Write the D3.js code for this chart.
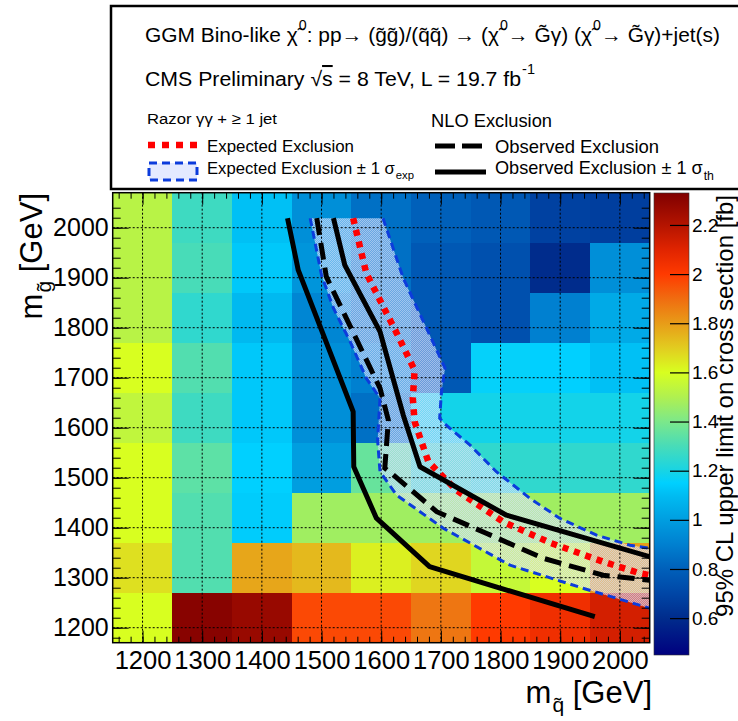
<!DOCTYPE html>
<html>
<head>
<meta charset="utf-8">
<script src="https://cdn.jsdelivr.net/npm/d3@7"></script>
<style>
body { margin: 0; background: #fff; }
svg { display: block; }
text { font-family: "Liberation Sans", Arial, Helvetica, sans-serif; fill: #000; }
</style>
</head>
<body>
<div id="chart"></div>
<script>
// bin centres of the limit histogram
var squarkMass = [1200, 1300, 1400, 1500, 1600, 1700, 1800, 1900, 2000];
var gluinoMass = [1220, 1320, 1420, 1520, 1620, 1720, 1820, 1920, 2020];

// 95% CL upper limit [fb], one row per gluino bin (bottom to top)
var limit1220 = [1.60, 2.31, 2.27, 1.97, 1.97, 1.88, 2.00, 2.05, 2.13];
var limit1320 = [1.66, 1.32, 1.78, 1.74, 1.63, 1.68, 1.55, 1.60, 1.80];
var limit1420 = [1.60, 1.32, 1.14, 1.47, 1.47, 1.47, 1.47, 1.47, 1.47];
var limit1520 = [1.60, 1.34, 1.15, 1.00, 1.36, 1.27, 1.25, 1.25, 1.25];
var limit1620 = [1.54, 1.28, 1.13, 0.95, 0.85, 1.19, 1.19, 1.19, 1.19];
var limit1720 = [1.60, 1.32, 1.13, 0.95, 0.90, 0.77, 1.16, 1.15, 1.11];
var limit1820 = [1.52, 1.25, 1.09, 0.92, 0.85, 0.77, 0.74, 0.90, 1.04];
var limit1920 = [1.52, 1.30, 1.13, 0.97, 0.85, 0.77, 0.74, 0.60, 0.95];
var limit2020 = [1.52, 1.28, 1.11, 0.95, 0.85, 0.80, 0.77, 0.68, 0.67];
var limits = [limit1220, limit1320, limit1420, limit1520, limit1620, limit1720, limit1820, limit1920, limit2020];

var xTicks = [1200, 1300, 1400, 1500, 1600, 1700, 1800, 1900, 2000];
var yTicks = [1200, 1300, 1400, 1500, 1600, 1700, 1800, 1900, 2000];
var zTicks = [0.6, 0.8, 1.0, 1.2, 1.4, 1.6, 1.8, 2.0, 2.2];
var zTickLabels = ["0.6", "0.8", "1", "1.2", "1.4", "1.6", "1.8", "2", "2.2"];

// exclusion contours [m_squark, m_gluino]
var expected = [[1553,2019],[1575,1909],[1626,1789],[1656,1715],[1653,1659],[1656,1612],[1679,1532],
  [1726,1475],[1804,1412],[1885,1369],[1972,1332],[2033,1309],[2050,1305]];
var expectedUp = [[1603,2019],[1637,1899],[1676,1799],[1707,1719],[1701,1672],[1698,1619],[1709,1605],
  [1749,1565],[1793,1512],[1849,1459],[1899,1419],[1961,1385],[2017,1365],[2050,1359]];
var expectedDown = [[1481,2019],[1500,1905],[1520,1839],[1548,1772],[1575,1699],[1598,1659],[1594,1575],
  [1598,1512],[1626,1465],[1704,1399],[1816,1325],[1938,1279],[2050,1239]];
var observed = [[1492,2019],[1508,1902],[1598,1679],[1612,1615],[1606,1519],[1617,1509],[1693,1432],
  [1776,1389],[1871,1339],[1972,1305],[2050,1295]];
var observedUp = [[1520,2019],[1539,1925],[1598,1792],[1637,1625],[1665,1522],[1810,1425],[2050,1342]];
var observedDown = [[1443,2019],[1461,1915],[1553,1632],[1554,1522],[1592,1419],[1681,1322],[1958,1222]];

// ROOT-like rainbow palette
var paletteValues = [0.45, 0.6, 0.7, 0.8, 0.9, 1.0, 1.1, 1.15, 1.2, 1.3, 1.4, 1.5, 1.6, 1.7, 1.8, 1.9, 2.0, 2.1, 2.2, 2.33];
var paletteColors = ["#00007f", "#002c8c", "#0046a6", "#0060ba", "#0080d0", "#009ee0", "#00bcf2", "#00d0ff",
  "#18d4e4", "#48dcb8", "#7ce88a", "#b0f050", "#d8ff20", "#e2cc20", "#e89c18", "#f06c10", "#ff3a00",
  "#e02400", "#b41400", "#800000"];

var width = 738, height = 721;
var x = d3.scaleLinear().domain([1150, 2050]).range([112.7, 649.7]);
var y = d3.scaleLinear().domain([1170, 2070]).range([642.7, 192.7]);
var z = d3.scaleLinear().domain([0.45, 2.33]).range([655, 193]);
var color = d3.scaleLinear().domain(paletteValues).range(paletteColors).clamp(true);

var svg = d3.select("#chart").append("svg").attr("width", width).attr("height", height);
var defs = svg.append("defs");

defs.append("clipPath").attr("id", "plotclip").append("rect")
  .attr("x", x(1150)).attr("y", y(2070)).attr("width", x(2050) - x(1150)).attr("height", y(1170) - y(2070));

var hatch = defs.append("pattern").attr("id", "hatch").attr("patternUnits", "userSpaceOnUse")
  .attr("width", 2).attr("height", 2);
hatch.append("rect").attr("width", 2).attr("height", 2).attr("fill", "rgba(212,222,255,0.5)");
hatch.append("rect").attr("x", 0).attr("y", 0).attr("width", 1).attr("height", 1).attr("fill", "rgba(225,232,255,0.45)");
hatch.append("rect").attr("x", 1).attr("y", 1).attr("width", 1).attr("height", 1).attr("fill", "rgba(225,232,255,0.45)");

// heat map cells
var cells = [];
limits.forEach(function(row, j) {
  row.forEach(function(v, i) {
    cells.push({sq: squarkMass[i], gl: gluinoMass[j], v: v});
  });
});

var plot = svg.append("g").attr("clip-path", "url(#plotclip)");
plot.selectAll(".cell").data(cells).enter().append("rect")
  .attr("class", "cell")
  .attr("x", function(d) { return x(d.sq - 50); })
  .attr("y", function(d) { return y(d.gl + 50); })
  .attr("width", function(d) { return x(d.sq + 50) - x(d.sq - 50) + 0.5; })
  .attr("height", function(d) { return y(d.gl - 50) - y(d.gl + 50) + 0.5; })
  .attr("fill", function(d) { return color(d.v); })
  .attr("shape-rendering", "crispEdges");

var line = d3.line().x(function(d) { return x(d[0]); }).y(function(d) { return y(d[1]); });

// +-1 sigma expected band
var band = expectedUp.concat(expectedDown.slice().reverse());
plot.append("path").attr("d", line(band) + "Z").attr("fill", "url(#hatch)");

// grid
plot.selectAll(".gx").data(xTicks).enter().append("line")
  .attr("x1", function(d) { return x(d); }).attr("x2", function(d) { return x(d); })
  .attr("y1", y(2070)).attr("y2", y(1170))
  .attr("stroke", "#000").attr("stroke-width", 1).attr("stroke-dasharray", "2,2");
plot.selectAll(".gy").data(yTicks).enter().append("line")
  .attr("y1", function(d) { return y(d); }).attr("y2", function(d) { return y(d); })
  .attr("x1", x(1150)).attr("x2", x(2050))
  .attr("stroke", "#000").attr("stroke-width", 1).attr("stroke-dasharray", "2,2");

[expectedUp, expectedDown].forEach(function(c) {
  plot.append("path").attr("d", line(c)).attr("fill", "none")
    .attr("stroke", "#0c3cdc").attr("stroke-width", 3).attr("stroke-dasharray", "8,5");
});
plot.append("path").attr("d", line(expected)).attr("fill", "none")
  .attr("stroke", "#ff0000").attr("stroke-width", 6.5).attr("stroke-dasharray", "6,6");
[observedUp, observedDown].forEach(function(c) {
  plot.append("path").attr("d", line(c)).attr("fill", "none")
    .attr("stroke", "#000").attr("stroke-width", 5).attr("stroke-linejoin", "round");
});
plot.append("path").attr("d", line(observed)).attr("fill", "none")
  .attr("stroke", "#000").attr("stroke-width", 5).attr("stroke-dasharray", "17,8");

// axes
var minor = d3.range(1160, 2051, 20);
function ticks(axis, vals, size) {
  return axis.tickValues(vals).tickSize(size).tickFormat("");
}
svg.append("g").attr("transform", "translate(0," + y(1170) + ")")
  .call(ticks(d3.axisBottom(x), minor, -6));
svg.append("g").attr("transform", "translate(0," + y(2070) + ")")
  .call(ticks(d3.axisTop(x), minor, -6));
svg.append("g").attr("transform", "translate(0," + y(2070) + ")")
  .call(ticks(d3.axisTop(x), xTicks, -12));
svg.append("g").attr("transform", "translate(" + x(1150) + ",0)")
  .call(ticks(d3.axisLeft(y), minor.filter(function(d) { return d >= 1170; }), -8));
svg.append("g").attr("transform", "translate(" + x(2050) + ",0)")
  .call(ticks(d3.axisRight(y), minor.filter(function(d) { return d >= 1170; }), -8));
svg.append("g").attr("transform", "translate(" + x(2050) + ",0)")
  .call(ticks(d3.axisRight(y), yTicks, -16));

svg.append("g").attr("class", "xaxis").attr("transform", "translate(0," + y(1170) + ")")
  .call(d3.axisBottom(x).tickValues(xTicks).tickSize(-12).tickPadding(8).tickFormat(d3.format("d")));
svg.append("g").attr("class", "yaxis").attr("transform", "translate(" + x(1150) + ",0)")
  .call(d3.axisLeft(y).tickValues(yTicks).tickSize(-16).tickPadding(4).tickFormat(d3.format("d")));
svg.selectAll(".xaxis text").style("font-size", "25.5px").style("font-family", null);
svg.selectAll(".yaxis text").style("font-size", "25px").style("font-family", null);
svg.selectAll(".domain").remove();
svg.selectAll(".tick line").attr("stroke", "#000").attr("stroke-width", 1);

svg.append("rect").attr("x", x(1150)).attr("y", y(2070))
  .attr("width", x(2050) - x(1150)).attr("height", y(1170) - y(2070))
  .attr("fill", "none").attr("stroke", "#000").attr("stroke-width", 1.5);

// colour bar
var grad = defs.append("linearGradient").attr("id", "zgrad")
  .attr("x1", 0).attr("y1", 1).attr("x2", 0).attr("y2", 0);
paletteValues.forEach(function(v, i) {
  grad.append("stop").attr("offset", (v - 0.45) / (2.33 - 0.45)).attr("stop-color", paletteColors[i]);
});
svg.append("rect").attr("x", 654).attr("y", z(2.33)).attr("width", 35).attr("height", z(0.45) - z(2.33))
  .attr("fill", "url(#zgrad)").attr("stroke", "#333").attr("stroke-width", 0.6);
svg.append("g").attr("class", "zaxis").attr("transform", "translate(689,0)")
  .call(d3.axisRight(z).tickValues(zTicks).tickSize(-19).tickPadding(3)
    .tickFormat(function(d, i) { return zTickLabels[i]; }));
svg.selectAll(".zaxis .domain").remove();
svg.selectAll(".zaxis text").style("font-size", "19px").style("font-family", null);
svg.selectAll(".zaxis line").attr("stroke", "#000").attr("stroke-width", 1.2);

svg.append("text").attr("transform", "translate(733,195) rotate(-90)")
  .attr("text-anchor", "end").style("font-size", "24px")
  .text("95% CL upper limit on cross section [fb]");

// rich text helper: parts are [string, kind]
function rich(g, px, py, size, parts, len) {
  var t = g.append("text").attr("x", px).attr("y", py).style("font-size", size + "px");
  var shift = 0;
  parts.forEach(function(p) {
    var target = p[1] === "sup" ? -0.6 * size : p[1] === "sub" ? 0.3 * size : 0;
    var s = t.append("tspan").text(p[0]).attr("dy", target - shift);
    shift = target;
    if (p[1] === "sup" || p[1] === "sub") s.style("font-size", (size * 0.68) + "px").attr("dx", 1);
    if (p[1] === "over") s.style("text-decoration", "overline");
  });
  if (len) t.attr("textLength", len).attr("lengthAdjust", "spacingAndGlyphs");
  return t;
}

// axis titles
rich(svg, 652, 703, 31, [["m"], ["q\u0303", "sub"], [" [GeV]"]]).attr("text-anchor", "end");
rich(svg.append("g").attr("transform", "translate(42,193) rotate(-90)"), 0, 0, 31,
  [["m"], ["g\u0303", "sub"], [" [GeV]"]]).attr("text-anchor", "end");

// legend
var leg = svg.append("g");
leg.append("rect").attr("x", 111).attr("y", 6).attr("width", 700).attr("height", 183)
  .attr("fill", "#fff").attr("stroke", "#000").attr("stroke-width", 2.5);

rich(leg, 145, 42, 20.5, [["GGM Bino-like \u03c7\u0303"], ["0", "sup"], [": pp\u2192 (g\u0303g\u0303)/(q\u0303q\u0303) \u2192 (\u03c7\u0303"],
  ["0", "sup"], ["\u2192 G\u0303\u03b3) (\u03c7\u0303"], ["0", "sup"], ["\u2192 G\u0303\u03b3)+jet(s)"]], 575);
rich(leg, 145, 86, 20.5, [["CMS Preliminary \u221a"], ["s", "over"], [" = 8 TeV, L = 19.7 fb"], ["-1", "sup"]], 390);
rich(leg, 147, 124, 15.5, [["Razor \u03b3\u03b3 + \u2265 1 jet"]], 130);
rich(leg, 431, 127, 18.5, [["NLO Exclusion"]], 121);
rich(leg, 207, 152, 17, [["Expected Exclusion"]], 147);
rich(leg, 207, 174, 17, [["Expected Exclusion \u00b1 1 \u03c3"], ["exp", "sub"]], 207);
rich(leg, 495, 153, 18.5, [["Observed Exclusion"]], 164);
rich(leg, 495, 174, 18.5, [["Observed Exclusion \u00b1 1 \u03c3"], ["th", "sub"]], 219);

leg.append("line").attr("x1", 148).attr("x2", 198).attr("y1", 145).attr("y2", 145)
  .attr("stroke", "#ff0000").attr("stroke-width", 6.5).attr("stroke-dasharray", "7,7");
leg.append("rect").attr("x", 149).attr("y", 163).attr("width", 48).attr("height", 17)
  .attr("fill", "#e4eaff").attr("stroke", "#0c3cdc").attr("stroke-width", 3).attr("stroke-dasharray", "8,5");
leg.append("line").attr("x1", 435).attr("x2", 486).attr("y1", 146).attr("y2", 146)
  .attr("stroke", "#000").attr("stroke-width", 5).attr("stroke-dasharray", "20,7");
leg.append("line").attr("x1", 435).attr("x2", 486).attr("y1", 172).attr("y2", 172)
  .attr("stroke", "#000").attr("stroke-width", 5);
</script>
</body>
</html>
